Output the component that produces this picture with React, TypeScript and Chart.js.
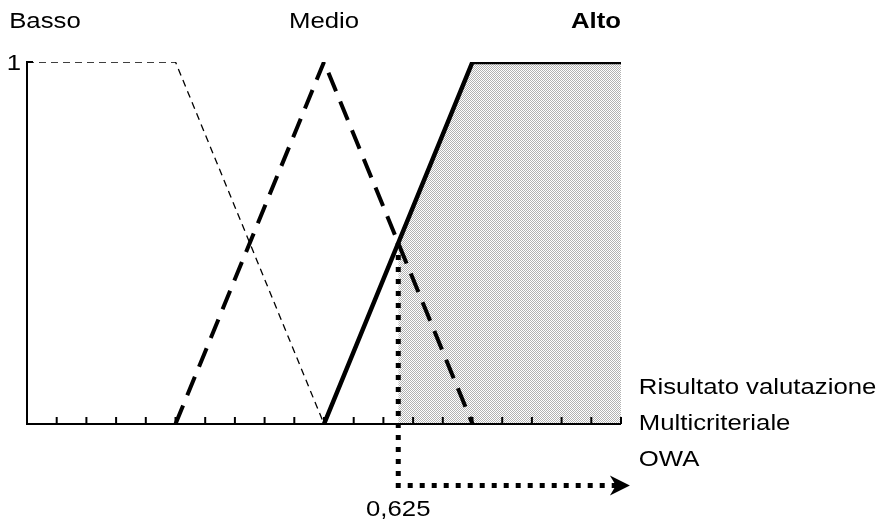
import React, { useEffect, useRef } from "react";
import { Chart, registerables } from "chart.js";

Chart.register(...registerables);

// Membership functions (x in [0,1], degree in [0,1])
const bassoX = [0, 0.25, 0.5];
const bassoY = [1, 1, 0];
const medioX = [0.25, 0.5, 0.75];
const medioY = [0, 1, 0];
const altoX = [0.5, 0.75, 1];
const altoY = [0, 1, 1];
// Shaded region (activated part of "Alto")
const shadeX = [0.625, 0.75, 1];
const shadeY = [0.5, 1, 1];
// Result
const resultX = 0.625;
const resultY = 0.5;
const resultLabel = "0,625";
const tickValues = [0.05, 0.1, 0.15, 0.2, 0.25, 0.3, 0.35, 0.4, 0.45, 0.5, 0.55, 0.6, 0.65, 0.7, 0.75, 0.8, 0.85, 0.9, 0.95, 1.0];
const setLabels = ["Basso", "Medio", "Alto"];
const axisTitle = ["Risultato valutazione", "Multicriteriale", "OWA"];
const yTopLabel = "1";

const pts = (xs: number[], ys: number[]) => xs.map((x, i) => ({ x, y: ys[i] }));

function makePattern(): CanvasPattern | string {
  const c = document.createElement("canvas");
  c.width = 2;
  c.height = 2;
  const g = c.getContext("2d");
  if (!g) return "#d8d8d8";
  g.fillStyle = "#ffffff";
  g.fillRect(0, 0, 2, 2);
  g.fillStyle = "#b2b2b2";
  g.fillRect(0, 0, 1, 1);
  g.fillRect(1, 1, 1, 1);
  const p = g.createPattern(c, "repeat");
  return p || "#d8d8d8";
}

const FONT = '"Liberation Sans", Arial, sans-serif';

function stretchedText(ctx: CanvasRenderingContext2D, text: string, x: number, y: number, align: "left" | "center" | "right", bold = false) {
  const sx = 1.17;
  ctx.save();
  ctx.font = `${bold ? "bold " : ""}22px ${FONT}`;
  ctx.textBaseline = "alphabetic";
  ctx.fillStyle = "#000";
  const w = ctx.measureText(text).width * sx;
  let left = x;
  if (align === "center") left = x - w / 2;
  if (align === "right") left = x - w;
  ctx.translate(left, y);
  ctx.scale(sx, 1);
  ctx.textAlign = "left";
  ctx.fillText(text, 0, 0);
  ctx.restore();
}

const decorPlugin = {
  id: "decor",
  afterDatasetsDraw(chart: any) {
    const ctx: CanvasRenderingContext2D = chart.ctx;
    const xs = chart.scales.x;
    const ys = chart.scales.y;
    const X = (v: number) => xs.getPixelForValue(v);
    const Y = (v: number) => ys.getPixelForValue(v);
    ctx.save();
    ctx.strokeStyle = "#000";
    ctx.lineCap = "butt";
    // axes
    ctx.lineWidth = 2;
    ctx.beginPath();
    ctx.moveTo(X(0) + 6, Y(1));
    ctx.lineTo(X(0), Y(1));
    ctx.lineTo(X(0), Y(0));
    ctx.lineTo(X(1), Y(0));
    ctx.stroke();
    // ticks
    for (const t of tickValues) {
      ctx.beginPath();
      ctx.moveTo(X(t), Y(0));
      ctx.lineTo(X(t), Y(0) - 7);
      ctx.stroke();
    }
    // dotted result lines
    const yBelow = Y(-0.17);
    const xEnd = X(1.0);
    ctx.lineWidth = 5;
    ctx.setLineDash([5, 7]);
    ctx.beginPath();
    ctx.moveTo(X(resultX), Y(resultY));
    ctx.lineTo(X(resultX), yBelow);
    ctx.lineTo(xEnd, yBelow);
    ctx.stroke();
    ctx.setLineDash([]);
    // arrow head
    const tip = X(1.015);
    ctx.fillStyle = "#000";
    ctx.beginPath();
    ctx.moveTo(tip, yBelow);
    ctx.lineTo(tip - 20, yBelow - 10);
    ctx.lineTo(tip - 14, yBelow);
    ctx.lineTo(tip - 20, yBelow + 10);
    ctx.closePath();
    ctx.fill();
    ctx.restore();

    // texts
    stretchedText(ctx, yTopLabel, X(0) - 6, Y(1) + 8, "right");
    stretchedText(ctx, setLabels[0], X(-0.03), 28, "left");
    stretchedText(ctx, setLabels[1], X(0.5), 28, "center");
    stretchedText(ctx, setLabels[2], X(1), 28, "right", true);
    const tx = X(1.03);
    stretchedText(ctx, axisTitle[0], tx, Y(0) - 30, "left");
    stretchedText(ctx, axisTitle[1], tx, Y(0) + 6, "left");
    stretchedText(ctx, axisTitle[2], tx, Y(0) + 42, "left");
    stretchedText(ctx, resultLabel, X(resultX), Y(-0.255), "center");
  },
};

export default function App() {
  const ref = useRef<HTMLCanvasElement | null>(null);
  useEffect(() => {
    if (!ref.current) return;
    const chart = new Chart(ref.current, {
      type: "line",
      data: {
        datasets: [
          {
            label: "shade",
            data: pts(shadeX, shadeY),
            borderWidth: 0,
            borderColor: "rgba(0,0,0,0)",
            backgroundColor: makePattern() as any,
            fill: "origin",
            pointRadius: 0,
            tension: 0,
            order: 10,
          },
          {
            label: setLabels[0],
            data: pts(bassoX, bassoY),
            borderColor: "#000",
            borderWidth: 1.3,
            borderDash: [7, 5],
            fill: false,
            pointRadius: 0,
            tension: 0,
            order: 3,
          },
          {
            label: setLabels[1],
            data: pts(medioX, medioY),
            borderColor: "#000",
            borderWidth: 4,
            borderDash: [20, 11],
            fill: false,
            pointRadius: 0,
            tension: 0,
            order: 2,
          },
          {
            label: setLabels[2],
            data: pts(altoX, altoY),
            borderColor: "#000",
            borderWidth: 4.5,
            fill: false,
            pointRadius: 0,
            tension: 0,
            order: 1,
          },
        ],
      },
      options: {
        animation: false,
        responsive: false,
        devicePixelRatio: 1,
        layout: { padding: { left: 27, right: 260, top: 62, bottom: 95 } },
        plugins: { legend: { display: false }, tooltip: { enabled: false } },
        scales: {
          x: { type: "linear", min: 0, max: 1, display: false },
          y: { type: "linear", min: 0, max: 1, display: false },
        },
        events: [],
      },
      plugins: [decorPlugin],
    });
    return () => chart.destroy();
  }, []);
  return (
    <div style={{ position: "fixed", left: 0, top: 0, width: 881, height: 519, background: "#fff" }}>
      <canvas ref={ref} width={881} height={519} style={{ width: 881, height: 519 }} />
    </div>
  );
}
